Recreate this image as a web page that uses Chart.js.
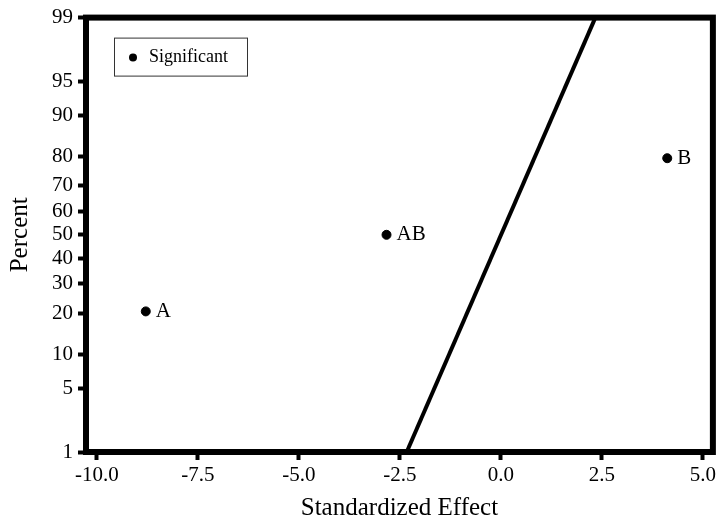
<!DOCTYPE html>
<html>
<head>
<meta charset="utf-8">
<script src="https://cdn.jsdelivr.net/npm/chart.js@4"></script>
<style>
  body { margin: 0; background: #fff; }
  canvas { display: block; }
</style>
</head>
<body>
<canvas id="myChart" width="719" height="521"></canvas>
<script>
// effects
const effectLabels = ['A', 'AB', 'B'];
const effectValues = [-8.79, -2.83, 4.12];
const effectPercent = [20.6, 50, 79.4];
// reference line (ends at 1% and 99%)
const lineEffect = [-2.33, 2.34];
const linePercent = [1, 99];
// axis ticks
const percentTicks = [1, 5, 10, 20, 30, 40, 50, 60, 70, 80, 90, 95, 99];
const effectTicks = [-10, -7.5, -5, -2.5, 0, 2.5, 5];

// inverse normal cdf (Acklam) so the y axis becomes a probability scale
function probit(p) {
    const a = [-3.969683028665376e+01, 2.209460984245205e+02, -2.759285104469687e+02, 1.383577518672690e+02, -3.066479806614716e+01, 2.506628277459239e+00];
    const b = [-5.447609879822406e+01, 1.615858368580409e+02, -1.556989798598866e+02, 6.680131188771972e+01, -1.328068155288572e+01];
    const c = [-7.784894002430293e-03, -3.223964580411365e-01, -2.400758277161838e+00, -2.549732539343734e+00, 4.374664141464968e+00, 2.938163982698783e+00];
    const d = [7.784695709041462e-03, 3.224671290700398e-01, 2.445134137142996e+00, 3.754408661907416e+00];
    const pl = 0.02425;
    let q, r;
    if (p < pl) {
        q = Math.sqrt(-2 * Math.log(p));
        return (((((c[0]*q+c[1])*q+c[2])*q+c[3])*q+c[4])*q+c[5]) / ((((d[0]*q+d[1])*q+d[2])*q+d[3])*q+1);
    }
    if (p > 1 - pl) {
        q = Math.sqrt(-2 * Math.log(1 - p));
        return -(((((c[0]*q+c[1])*q+c[2])*q+c[3])*q+c[4])*q+c[5]) / ((((d[0]*q+d[1])*q+d[2])*q+d[3])*q+1);
    }
    q = p - 0.5;
    r = q * q;
    return (((((a[0]*r+a[1])*r+a[2])*r+a[3])*r+a[4])*r+a[5])*q / (((((b[0]*r+b[1])*r+b[2])*r+b[3])*r+b[4])*r+1);
}

const serif = "'Liberation Serif', 'Times New Roman', serif";

const pointData = effectValues.map((v, i) => ({x: v, y: probit(effectPercent[i] / 100)}));
const lineData = lineEffect.map((v, i) => ({x: v, y: probit(linePercent[i] / 100)}));

// labels next to the points
const pointLabels = {
    id: 'pointLabels',
    afterDatasetsDraw(chart) {
        const ctx = chart.ctx;
        const meta = chart.getDatasetMeta(0);
        ctx.save();
        ctx.font = '21px ' + serif;
        ctx.fillStyle = '#000';
        ctx.textBaseline = 'middle';
        meta.data.forEach((pt, i) => {
            ctx.fillText(effectLabels[i], pt.x + 10, pt.y);
        });
        ctx.restore();
    }
};

// thick frame + boxed legend inside the plot
const frame = {
    id: 'frame',
    afterDraw(chart) {
        const {ctx, chartArea: a} = chart;
        ctx.save();
        ctx.strokeStyle = '#000';
        ctx.lineWidth = 6;
        ctx.strokeRect(a.left, a.top, a.right - a.left, a.bottom - a.top);

        const bx = a.left + 28, by = a.top + 20;
        ctx.lineWidth = 1;
        ctx.strokeStyle = '#333';
        ctx.strokeRect(bx + 0.5, by + 0.5, 133, 38);
        ctx.fillStyle = '#000';
        ctx.beginPath();
        ctx.arc(bx + 19, by + 20, 4, 0, Math.PI * 2);
        ctx.fill();
        ctx.font = '18px ' + serif;
        ctx.textBaseline = 'middle';
        ctx.fillText(chart.data.datasets[0].label, bx + 35, by + 20);
        ctx.restore();
    }
};

const ctx = document.getElementById('myChart').getContext('2d');
const chart = new Chart(ctx, {
    type: 'scatter',
    data: {
        datasets: [{
            label: 'Significant',
            data: pointData,
            backgroundColor: '#000',
            borderColor: '#000',
            pointRadius: 4.5
        }, {
            label: 'line',
            data: lineData,
            showLine: true,
            pointRadius: 0,
            borderColor: '#000',
            borderWidth: 4
        }]
    },
    options: {
        responsive: false,
        animation: false,
        layout: { padding: { top: 17, right: 5, left: 0, bottom: 0 } },
        plugins: {
            legend: { display: false },
            tooltip: { enabled: false }
        },
        scales: {
            x: {
                type: 'linear',
                min: -10.27,
                max: 5.25,
                afterBuildTicks: (scale) => { scale.ticks = effectTicks.map(v => ({value: v})); },
                afterFit: (scale) => { scale.height = 69; },
                border: { display: false },
                grid: { drawOnChartArea: false, drawTicks: true, tickLength: 8, tickWidth: 4, tickColor: '#000', color: '#000' },
                ticks: {
                    padding: 3,
                    color: '#000',
                    maxRotation: 0,
                    font: { family: serif, size: 21 },
                    callback: (v) => Number(v).toFixed(1)
                },
                title: {
                    display: true,
                    text: 'Standardized Effect',
                    color: '#000',
                    padding: 0,
                    font: { family: serif, size: 25, lineHeight: 1.0 }
                }
            },
            y: {
                type: 'linear',
                min: probit(0.01),
                max: probit(0.99),
                afterBuildTicks: (scale) => { scale.ticks = percentTicks.map(p => ({value: probit(p / 100)})); },
                afterFit: (scale) => { scale.width = 86; },
                border: { display: false },
                grid: { drawOnChartArea: false, drawTicks: true, tickLength: 8, tickWidth: 4, tickColor: '#000', color: '#000' },
                ticks: {
                    padding: 5,
                    color: '#000',
                    font: { family: serif, size: 21 },
                    callback: (v, i) => percentTicks[i]
                },
                title: {
                    display: true,
                    text: 'Percent',
                    color: '#000',
                    padding: { top: 5, bottom: 0 },
                    font: { family: serif, size: 25 }
                }
            }
        }
    },
    plugins: [pointLabels, frame]
});
</script>
</body>
</html>
